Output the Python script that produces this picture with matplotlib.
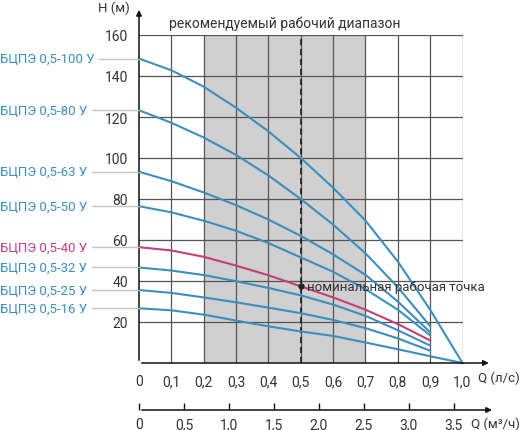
import matplotlib
matplotlib.use("Agg")
import matplotlib.pyplot as plt
from matplotlib.lines import Line2D

plt.rcParams["font.family"] = ["Roboto", "DejaVu Sans"]

# подача, л/с
q = [0, 0.1, 0.2, 0.3, 0.4, 0.5, 0.6, 0.7, 0.8, 0.9, 1.0]

# напор H (м) по моделям
h_100 = [148.5, 142.8, 134.8, 124.5, 113.0, 100.0, 85.5, 69.5, 49.5, 26.0, 0.0]
h_80 = [123.3, 117.2, 110.0, 101.5, 91.5, 80.0, 67.5, 53.5, 37.0, 18.0]
h_63 = [93.3, 88.7, 83.2, 77.0, 70.0, 62.0, 53.0, 43.0, 30.0, 15.0]
h_50 = [76.5, 73.5, 69.4, 64.5, 58.5, 51.5, 44.5, 36.0, 26.0, 13.5]
h_40 = [56.5, 54.9, 51.8, 47.5, 42.8, 37.4, 32.0, 26.0, 19.0, 11.0]
h_32 = [46.6, 45.1, 42.9, 39.9, 36.6, 33.0, 28.5, 23.0, 16.0, 8.5]
h_25 = [35.6, 34.2, 32.0, 29.6, 27.0, 24.3, 21.0, 17.0, 12.0, 6.0]
h_16 = [26.7, 25.7, 23.6, 20.7, 17.9, 15.4, 13.2, 10.0, 6.7, 3.3, 0.0]

models = ["БЦПЭ 0,5-100 У", "БЦПЭ 0,5-80 У", "БЦПЭ 0,5-63 У", "БЦПЭ 0,5-50 У",
          "БЦПЭ 0,5-40 У", "БЦПЭ 0,5-32 У", "БЦПЭ 0,5-25 У", "БЦПЭ 0,5-16 У"]
curves = [h_100, h_80, h_63, h_50, h_40, h_32, h_25, h_16]

q_ticks = [0, 0.1, 0.2, 0.3, 0.4, 0.5, 0.6, 0.7, 0.8, 0.9, 1.0]
q_labels = ["0", "0,1", "0,2", "0,3", "0,4", "0,5", "0,6", "0,7", "0,8", "0,9", "1,0"]
m3_ticks = [0, 0.5, 1.0, 1.5, 2.0, 2.5, 3.0, 3.5]
m3_labels = ["0", "0,5", "1,0", "1,5", "2,0", "2,5", "3,0", "3,5"]
h_ticks = [20, 40, 60, 80, 100, 120, 140, 160]

range_lo, range_hi = 0.2, 0.7
q_nom, h_nom = 0.5, 37.4

BLUE = "#3b8fbf"
PINK = "#c43d7c"
GRID = "#555555"
TXT = "#333333"
FS = 9.5
W, H = 520, 431

fig = plt.figure(figsize=(W / 100, H / 100), dpi=100)
x0, x1, y0, y1 = 139, 462.5, 364, 36
ax = fig.add_axes([x0 / W, 1 - y0 / H, (x1 - x0) / W, (y0 - y1) / H])
ax.set_xlim(0, 1.0)
ax.set_ylim(0, 160)
for s in ax.spines.values():
    s.set_visible(False)

# рабочий диапазон и сетка
ax.axvspan(range_lo, range_hi, color="#d0d0d0", lw=0, zorder=0)
for x in q_ticks[1:]:
    ax.axvline(x, color=GRID, lw=0.9, zorder=1)
for y in h_ticks:
    ax.axhline(y, color=GRID, lw=0.9, zorder=1)
ax.axvline(q_nom, color="#111111", lw=1.1, ls=(0, (4, 2.5)), zorder=2)

for name, h in zip(models, curves):
    col = PINK if "-40" in name else BLUE
    ax.plot(q[:len(h)], h, color=col, lw=1.5, zorder=3, clip_on=False)

ax.plot([q_nom], [h_nom], "o", color="#222222", ms=3.5, zorder=4)
ax.text(q_nom + 0.018, h_nom, "номинальная рабочая точка", fontsize=FS,
        color=TXT, va="center", ha="left", zorder=5)
ax.text((range_lo + range_hi) / 2, 1.037, "рекомендуемый рабочий диапазон",
        transform=ax.transAxes, fontsize=10, color=TXT, ha="center", va="center")

ax.set_xticks(q_ticks, q_labels)
ax.set_yticks(h_ticks, [str(v) for v in h_ticks])
ax.tick_params(length=0, labelsize=10, colors=TXT)
ax.tick_params(axis="y", pad=8)
ax.tick_params(axis="x", pad=8)

arrow = dict(arrowstyle="-|>", color="#111111", lw=1.1, mutation_scale=8)
ax.annotate("", xy=(1.09, 0), xytext=(0, 0), xycoords="axes fraction", arrowprops=arrow)
ax.annotate("", xy=(0, 1.085), xytext=(0, 0), xycoords="axes fraction", arrowprops=arrow)
ax.text(1.048, -0.043, "Q (л/с)", transform=ax.transAxes, fontsize=FS,
        color=TXT, ha="left", va="center")
ax.text(-0.028, 1.083, "H (м)", transform=ax.transAxes, fontsize=FS,
        color=TXT, ha="right", va="center")

# вторая шкала, м³/ч
ax2 = fig.add_axes([x0 / W, 1 - 411 / H, (x1 - x0) / W, 0.001])
ax2.set_xlim(0, 3.6)
ax2.set_yticks([])
for s in ax2.spines.values():
    s.set_visible(False)
ax2.set_xticks(m3_ticks, m3_labels)
ax2.tick_params(axis="x", direction="in", length=5, width=1, color="#111111",
                labelsize=10, labelcolor=TXT, pad=5)
ax2.annotate("", xy=(1.1, 0), xytext=(0, 0), xycoords="axes fraction", arrowprops=arrow)
ax2.text((471 - x0) / (x1 - x0), -13 / 0.431, "Q (м³/ч)", transform=ax2.transAxes,
         fontsize=FS, color=TXT, ha="left", va="center")

# подписи моделей слева с выносными линиями
fig.canvas.draw()
rend = fig.canvas.get_renderer()
for name, h in zip(models, curves):
    col = PINK if "-40" in name else BLUE
    ypix = ax.transData.transform((0, h[0]))[1]
    t = fig.text(0.5 / W, ypix / H, name, color=col, fontsize=FS, ha="left", va="center")
    bb = t.get_window_extent(rend)
    fig.add_artist(Line2D([(bb.x1 + 4) / W, x0 / W], [ypix / H, ypix / H],
                          color="#c4c4c4", lw=1, transform=fig.transFigure))

fig.savefig("out.png", dpi=100)
